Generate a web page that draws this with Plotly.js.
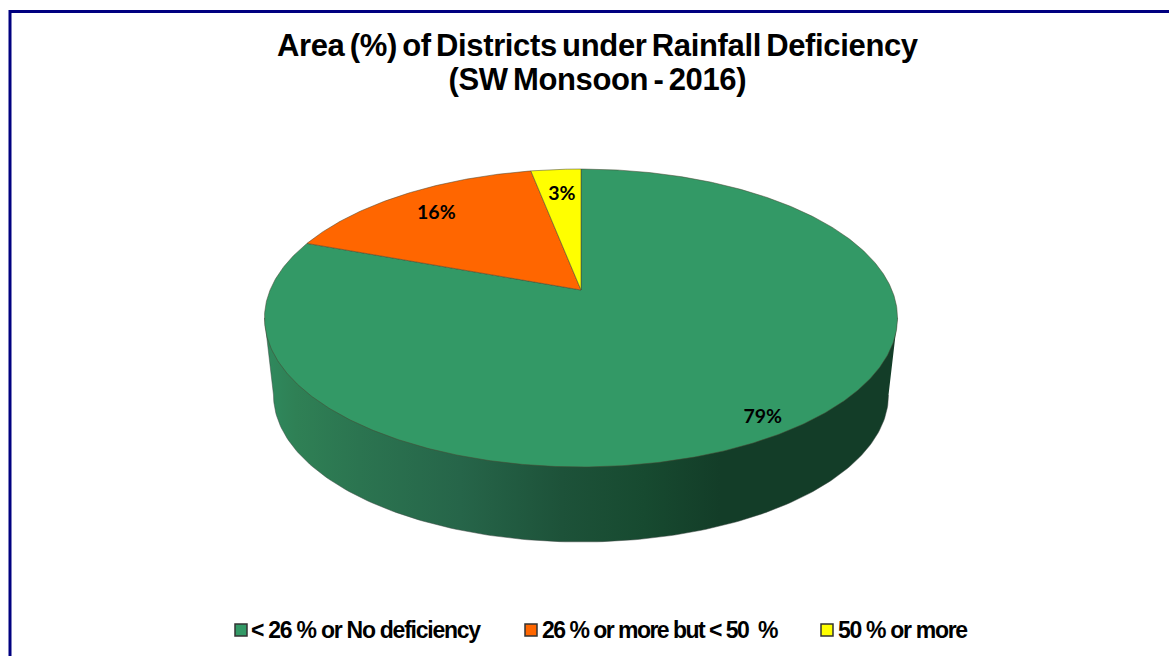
<!DOCTYPE html>
<html><head><meta charset="utf-8">
<script src="https://cdn.plot.ly/plotly-3.0.1.min.js"></script>
<style>html,body{margin:0;padding:0;background:#fff}#c{width:1169px;height:656px}</style>
</head><body><div id="c"></div>
<script>
const categories = ["< 26 % or No deficiency", "26 % or more but < 50  %", "50 % or more"];
const values = [79, 16, 3];
const colors = ["#339966", "#FF6600", "#FFFF00"];
const labelRadius = [0.87, 0.8, 0.79];
const labelNudgeX = [3, 0, 1.5];
const labelNudgeY = [9.5, 3, 4];
const legendX = [241, 531, 827];
const legendTextX = [251, 542, 838];
const legendSpacing = [-1.25, -1.53, -1.3];
const legendY = 630;

// Tilted-disc projection: apex, perspective and depth of the pie
const cx = 581, cy = 290, A = 310.9, B = 143.7, k = 0.188;
const wallCy = 395, wallA = 307.5, wallB = 147, topCy = 318, topA = 316.5;

function project(deg, r) {
  const t = deg * Math.PI / 180, u = Math.sin(t) * r, v = Math.cos(t) * r, d = 1 + k * v;
  return [cx + A * u / d, cy - B * v / d];
}
const total = values.reduce((a, b) => a + b, 0);
let start = 0;
const slices = values.map((v, i) => {
  const s = start, e = start + v / total * 360; start = e;
  const x = [cx], y = [cy];
  const n = Math.ceil((e - s) * 2);
  for (let j = 0; j <= n; j++) { const p = project(s + (e - s) * j / n, 1); x.push(p[0]); y.push(p[1]); }
  x.push(cx); y.push(cy);
  const lp = project((s + e) / 2, labelRadius[i]);
  return { x, y, lp };
});

// Side wall
const wx = [], wy = [];
for (let d = 0; d <= 180; d += 1) {
  const t = d * Math.PI / 180;
  wx.push(cx + wallA * Math.cos(t)); wy.push(wallCy + wallB * Math.sin(t));
}
wx.push(cx - topA, cx + topA); wy.push(topCy, topCy);

const traces = [];
traces.push({
  type: "scatter", mode: "lines", x: wx, y: wy, fill: "toself", showlegend: false, hoverinfo: "skip",
  line: { color: "rgba(60,70,65,0.6)", width: 0.8 },
  fillgradient: { type: "horizontal", colorscale: [
    [0, "#2f8a5e"], [0.05, "#2f8055"], [0.15, "#2b7450"], [0.31, "#266549"], [0.47, "#1d5239"], [0.6, "#174a30"], [0.72, "#133d28"], [1, "#133d28"]
  ] }
});
slices.forEach((s, i) => traces.push({
  type: "scatter", mode: "lines", x: s.x, y: s.y, fill: "toself", fillcolor: colors[i],
  name: categories[i], showlegend: false, hoverinfo: "name",
  line: { color: "rgba(70,70,50,0.75)", width: 0.7 }
}));
traces.push({
  type: "scatter", mode: "text",
  x: slices.map((s, i) => s.lp[0] + labelNudgeX[i]), y: slices.map((s, i) => s.lp[1] + labelNudgeY[i]),
  text: values.map(v => v + "%"), textposition: "middle center", showlegend: false, hoverinfo: "skip",
  textfont: { family: "Lato, 'Open Sans', sans-serif", size: 19.5, weight: 700, color: "#000" }
});
traces.push({
  type: "scatter", mode: "markers", x: legendX, y: categories.map(() => legendY), showlegend: false, hoverinfo: "skip",
  marker: { symbol: "square", size: 12, color: colors, line: { color: "#333", width: 1.5 } }
});
traces.push({
  type: "scatter", mode: "text", x: legendTextX, y: categories.map(() => legendY + 2),
  text: categories.map((c, i) => '<span style="letter-spacing:' + legendSpacing[i] + 'px">' + c.replace(/</g, "&lt;") + "</span>"),
  textposition: "middle right", showlegend: false, hoverinfo: "skip",
  textfont: { family: "'Liberation Sans', sans-serif", size: 23, weight: 700, color: "#000" }
});

const layout = {
  width: 1169, height: 656, autosize: false, paper_bgcolor: "#fff", plot_bgcolor: "#fff",
  margin: { l: 0, r: 0, t: 0, b: 0 }, showlegend: false, hovermode: "closest",
  title: {
    text: '<span style="font-size:31px;letter-spacing:-0.35px;word-spacing:-3px">Area (%) of Districts under Rainfall Deficiency</span><br><span style="font-size:31px;letter-spacing:-0.35px;word-spacing:-3px">(SW Monsoon - 2016)</span>',
    x: 0.511, xanchor: "center", y: 0.915, yanchor: "top",
    font: { family: "'Liberation Sans', Arial, sans-serif", size: 26, weight: 700, color: "#000" }
  },
  xaxis: { range: [0, 1169], visible: false, fixedrange: true },
  yaxis: { range: [656, 0], visible: false, fixedrange: true },
  shapes: [{ type: "rect", xref: "x", yref: "y", x0: 10, y0: 11.5, x1: 1190, y1: 680, line: { color: "#000080", width: 3 }, fillcolor: "rgba(0,0,0,0)", layer: "above" }]
};
Plotly.newPlot("c", traces, layout, { displayModeBar: false, staticPlot: true });
</script></body></html>
